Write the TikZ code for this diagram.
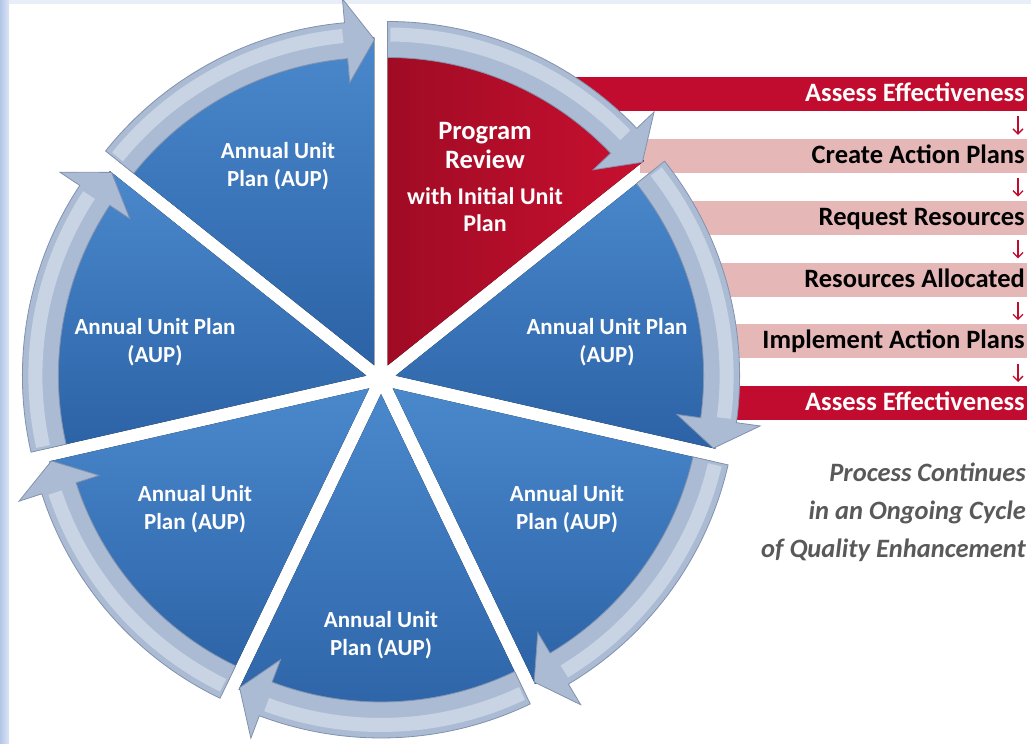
\documentclass[tikz,border=0pt]{standalone}
\usepackage{fontspec}
\setmainfont{Carlito}
\usetikzlibrary{positioning,arrows.meta}

\definecolor{aupblue}{HTML}{4A88CC}
\definecolor{aupblueD}{HTML}{2C62A6}
\definecolor{prred}{HTML}{C81030}
\definecolor{prredD}{HTML}{A00B24}
\definecolor{bandL}{HTML}{DCE4EF}
\definecolor{bandM}{HTML}{ACBBD4}
\definecolor{bandD}{HTML}{8192AE}
\definecolor{barred}{HTML}{C20C2F}
\definecolor{barpink}{HTML}{E5B7B7}
\definecolor{edgeblue}{HTML}{B2C6E8}
\definecolor{notegray}{HTML}{595959}

\begin{document}
\begin{tikzpicture}[x=1pt,y=1pt,
  sector/.style={top color=aupblue,bottom color=aupblueD},
  prsector/.style={left color=prredD,right color=prred},
  band/.style={fill=bandM,draw=bandD,line width=.8pt},
  bandshine/.style={draw=bandL,line width=14pt,opacity=.6},
  bar/.style={anchor=north east,text width=383pt,align=flush right,inner xsep=2pt,
    inner ysep=0pt,minimum height=34pt,text height=18pt,text depth=3pt,
    font=\fontsize{26.5}{26.5}\selectfont\bfseries},
  redbar/.style={bar,fill=barred,text=white},
  pinkbar/.style={bar,fill=barpink,text=black},
  flow/.style={draw=barred,line width=1.3pt,shorten <=5pt,shorten >=4pt,
    -{Straight Barb[length=5pt,width=10pt]}},
  unittext/.style={text=white,align=center,font=\fontsize{23}{28}\selectfont\bfseries},
  note/.style={text=notegray,align=right,font=\fontsize{26.5}{38}\selectfont\bfseries\itshape},
  node distance=27.4pt]

% page and frame strips
\fill[white] (0,0) rectangle (1031,744);
\useasboundingbox (0,0) rectangle (1031,744);
\shade[left color=edgeblue,right color=edgeblue!45] (0,0) rectangle (9,744);
\fill[edgeblue!30] (9,740) rectangle (1031,744);

% steps on the right
\node[redbar,text width=453pt] (ae1) at (1027,667) {Assess Effectiveness};
\node[pinkbar,below=of ae1.south east,anchor=north east] (cap) {Create Action Plans};
\node[pinkbar,below=of cap.south east,anchor=north east] (rr) {Request Resources};
\node[pinkbar,below=of rr.south east,anchor=north east] (ra) {Resources Allocated};
\node[pinkbar,below=of ra.south east,anchor=north east] (iap) {Implement Action Plans};
\node[redbar,below=of iap.south east,anchor=north east] (ae2) {Assess Effectiveness};
\foreach \u/\v in {ae1/cap,cap/rr,rr/ra,ra/iap,iap/ae2}
  \draw[flow] ([xshift=-9pt]\u.south east) -- ([xshift=-9pt]\v.north east);

% the cycle: seven wedges, each with its arrow band
\foreach \i/\s in {0/prsector,1/sector,2/sector,3/sector,4/sector,5/sector,6/sector}
{\pgfmathsetmacro\a{90-51.4286*\i}
 \pgfmathsetmacro\b{\a-51.4286}
 \pgfmathsetmacro\m{\a-25.7143}
 \pgfmathsetmacro\h{\b+5}
 \begin{scope}[shift={(381,365)},shift={(\m:15)}]
  \fill[\s] (0,0) -- (\a:328) arc[start angle=\a,end angle=\b,radius=328] -- cycle;
  \filldraw[band] (\a:344) arc[start angle=\a,end angle=\h,radius=344]
    -- (\h:368) -- (\b:326) -- (\h:284) -- (\h:308)
    arc[start angle=\h,end angle=\a,radius=308] -- cycle;
  \draw[bandshine] (\a-0.5:331) arc[start angle=\a-0.5,end angle=\h+0.5,radius=331];
 \end{scope}}

% wedge labels
\node[unittext,font=\fontsize{26.5}{29}\selectfont\bfseries] (prog) at (485,598) {Program\\Review};
\node[unittext,font=\fontsize{24}{27}\selectfont\bfseries] (init) at (485,534) {with Initial Unit\\Plan};
\node[unittext] (tl) at (278,578) {Annual Unit\\Plan (AUP)};
\node[unittext] (lft) at (155,402) {Annual Unit Plan\\(AUP)};
\node[unittext] (rgt) at (607,402) {Annual Unit Plan\\(AUP)};
\node[unittext] (ll) at (195,235) {Annual Unit\\Plan (AUP)};
\node[unittext] (lr) at (567,235) {Annual Unit\\Plan (AUP)};
\node[unittext] (bot) at (381,109) {Annual Unit\\Plan (AUP)};

\node[note,anchor=east,inner xsep=0pt] (cont) at (1026,232)
  {Process Continues\\in an Ongoing Cycle\\of Quality Enhancement};
\end{tikzpicture}
\end{document}
